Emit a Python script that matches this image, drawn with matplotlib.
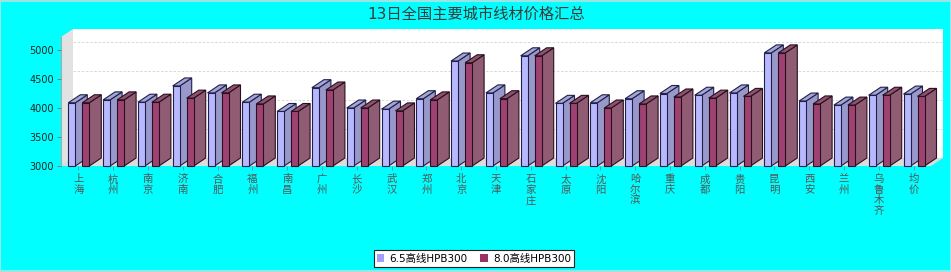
import matplotlib
matplotlib.use('Agg')
import matplotlib.pyplot as plt
from matplotlib.patches import Polygon, Rectangle, Patch
import numpy as np

# ---- data ----
cities = ['上海', '杭州', '南京', '济南', '合肥', '福州', '南昌', '广州', '长沙', '武汉',
          '郑州', '北京', '天津', '石家庄', '太原', '沈阳', '哈尔滨', '重庆', '成都', '贵阳',
          '昆明', '西安', '兰州', '乌鲁木齐', '均价']
s65 = [4090, 4140, 4100, 4380, 4260, 4100, 3940, 4350, 4000, 3980,
       4160, 4810, 4260, 4900, 4080, 4090, 4160, 4250, 4220, 4260,
       4950, 4120, 4050, 4220, 4240]
s80 = [4090, 4140, 4100, 4170, 4260, 4070, 3940, 4310, 4000, 3950,
       4140, 4780, 4160, 4900, 4080, 4000, 4070, 4190, 4170, 4200,
       4950, 4070, 4050, 4220, 4200]
series_names = ['6.5高线HPB300', '8.0高线HPB300']
yticks = [3000, 3500, 4000, 4500, 5000]
title = '13日全国主要城市线材价格汇总'

CJK = ['Noto Sans CJK SC', 'DejaVu Sans']
MIX = ['DejaVu Sans', 'Noto Sans CJK SC']

W, H = 951, 272
fig = plt.figure(figsize=(W / 100, H / 100), dpi=100, facecolor='#00FFFF')

# border
fig.patches.append(Rectangle((0.0005, 0.002), 0.999, 0.996, transform=fig.transFigure, fill=False,
                             edgecolor='#B8E0E0', linewidth=1.2))

L, R, T, B = 61, 931, 37, 166
ax = fig.add_axes([L / W, (H - B) / H, (R - L) / W, (B - T) / H])
n = len(cities)
ymin = 3000
ymax = 3000 + (B - T) * 1000 / 58.0
ax.set_xlim(0, n)
ax.set_ylim(ymin, ymax)
ax.set_autoscale_on(False)
ax.patch.set_visible(False)
for sp in ax.spines.values():
    sp.set_visible(False)

px_x = n / (R - L)
px_y = (ymax - ymin) / (B - T)
dx = 12 * px_x
dy = 8 * px_y

# walls
ax.add_patch(Rectangle((dx, ymin + dy), n, ymax - ymin, facecolor='white',
                       edgecolor='none', clip_on=False, zorder=0))
ax.add_patch(Polygon([(0, ymin), (dx, ymin + dy), (dx, ymax + dy), (0, ymax)],
                     closed=True, facecolor='#E2E2E2', edgecolor='none', clip_on=False, zorder=0.5))
ax.add_patch(Polygon([(0, ymin), (n, ymin), (n + dx, ymin + dy), (dx, ymin + dy)],
                     closed=True, facecolor='#DCDCDC', edgecolor='none', clip_on=False, zorder=0.5))
for v in yticks[1:]:
    ax.plot([dx, n + dx], [v + dy, v + dy], linestyle=(0, (3, 2)), color='#D2D2D2',
            linewidth=0.6, clip_on=False, zorder=1)
# axis line
ax.plot([0, 0], [ymin, ymax], color='#AAAAAA', linewidth=0.8, clip_on=False, zorder=1)

bw = 7 * px_x
offs = [7.3 * px_x, 21.3 * px_x]
styles = [
    dict(front='#B8B8FF', side='#9898CA', top='#A5A5D8', edge='#20204A'),
    dict(front='#9E4272', side='#8F5C73', top='#8C5270', edge='#2A0F1E'),
]
series = [s65, s80]

z = 2
for i in range(n):
    for s in range(2):
        v = series[s][i]
        st = styles[s]
        x0 = i + offs[s]
        ax.add_patch(Polygon([(x0 + bw, ymin), (x0 + bw + dx, ymin + dy),
                              (x0 + bw + dx, v + dy), (x0 + bw, v)], closed=True,
                             facecolor=st['side'], edgecolor=st['edge'], linewidth=0.8,
                             clip_on=False, zorder=z))
        ax.add_patch(Polygon([(x0, v), (x0 + dx, v + dy), (x0 + bw + dx, v + dy),
                              (x0 + bw, v)], closed=True,
                             facecolor=st['top'], edgecolor=st['edge'], linewidth=0.8,
                             clip_on=False, zorder=z + 1))
        ax.add_patch(Rectangle((x0, ymin), bw, v - ymin, facecolor=st['front'],
                               edgecolor=st['edge'], linewidth=0.8, clip_on=False,
                               zorder=z + 2))
        z += 3

ax.set_yticks(yticks)
ax.set_yticklabels([str(v) for v in yticks], fontsize=7, color='#222222', family=MIX)
ax.tick_params(axis='y', length=3, width=0.6, color='#777777', pad=2)
ax.set_xticks(np.arange(n) + 0.5)
ax.set_xticklabels(['\n'.join(c) for c in cities], fontsize=7.5, color='#555555',
                   family=CJK, linespacing=1.05, va='top')
ax.tick_params(axis='x', length=3, width=0.6, color='#888888', pad=3)

fig.text(476 / W, 1 - 14 / H, title, ha='center', va='center', fontsize=11,
         color='#3A3A3A', family=MIX)

handles = [Patch(facecolor='#A0A0F8', edgecolor='none'),
           Patch(facecolor='#993366', edgecolor='none')]
leg = fig.legend(handles, series_names, loc='center', ncol=2,
                 bbox_to_anchor=(474 / W, 1 - 258.5 / H), frameon=True, fancybox=False,
                 edgecolor='#222222', facecolor='white', framealpha=1,
                 prop={'family': MIX, 'size': 7.5},
                 handlelength=0.7, handleheight=0.7, handletextpad=0.5,
                 columnspacing=1.2, borderpad=0.35, borderaxespad=0)
leg.get_frame().set_linewidth(0.8)

fig.savefig('out.png', dpi=100, facecolor=fig.get_facecolor())
